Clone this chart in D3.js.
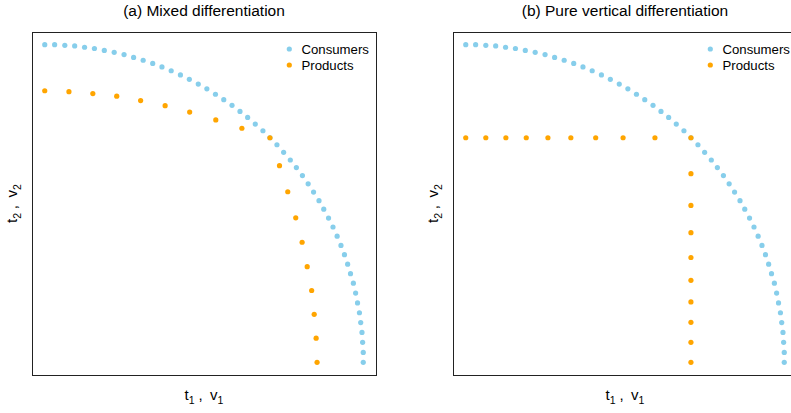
<!DOCTYPE html>
<html>
<head>
<meta charset="utf-8">
<script src="https://cdn.jsdelivr.net/npm/d3@7"></script>
<style>
  html, body { margin: 0; padding: 0; background: #fff; }
  svg { display: block; font-family: "Liberation Sans", Arial, sans-serif; }
</style>
</head>
<body>
<svg id="chart" width="791" height="413"></svg>
<script>
// ---- Data ----
const panelTitles = ["(a) Mixed differentiation", "(b) Pure vertical differentiation"];
const seriesNames = ["Consumers", "Products"];

const consumersX = [0.000, 0.031, 0.063, 0.094, 0.125, 0.156, 0.187, 0.218, 0.249, 0.279,
  0.309, 0.339, 0.368, 0.397, 0.426, 0.454, 0.482, 0.509, 0.536, 0.562,
  0.588, 0.613, 0.637, 0.661, 0.685, 0.707, 0.729, 0.750, 0.771, 0.790,
  0.809, 0.827, 0.844, 0.861, 0.876, 0.891, 0.905, 0.918, 0.930, 0.941,
  0.951, 0.960, 0.969, 0.976, 0.982, 0.988, 0.992, 0.996, 0.998, 1.000, 1.000];
const consumersY = [1.000, 1.000, 0.998, 0.996, 0.992, 0.988, 0.982, 0.976, 0.969, 0.960,
  0.951, 0.941, 0.930, 0.918, 0.905, 0.891, 0.876, 0.861, 0.844, 0.827,
  0.809, 0.790, 0.771, 0.750, 0.729, 0.707, 0.685, 0.661, 0.637, 0.613,
  0.588, 0.562, 0.536, 0.509, 0.482, 0.454, 0.426, 0.397, 0.368, 0.339,
  0.309, 0.279, 0.249, 0.218, 0.187, 0.156, 0.125, 0.094, 0.063, 0.031, 0.000];

const productsMixedX = [0.000, 0.076, 0.151, 0.226, 0.301, 0.378, 0.455, 0.537, 0.619, 0.707,
  0.737, 0.763, 0.788, 0.808, 0.824, 0.838, 0.846, 0.852, 0.855];
const productsMixedY = [0.855, 0.852, 0.846, 0.838, 0.824, 0.808, 0.788, 0.763, 0.737, 0.707,
  0.619, 0.537, 0.455, 0.378, 0.301, 0.226, 0.151, 0.076, 0.000];

const productsVertX = [0.000, 0.063, 0.126, 0.190, 0.258, 0.330, 0.408, 0.494, 0.594, 0.707,
  0.707, 0.707, 0.707, 0.707, 0.707, 0.707, 0.707, 0.707, 0.707];
const productsVertY = [0.707, 0.707, 0.707, 0.707, 0.707, 0.707, 0.707, 0.707, 0.707, 0.707,
  0.594, 0.494, 0.408, 0.330, 0.258, 0.190, 0.126, 0.063, 0.000];

const colors = { Consumers: "#87CEEB", Products: "#FFA500" };

// ---- Layout ----
const svg = d3.select("#chart");
const panels = [
  { left: 32, title: panelTitles[0], px: productsMixedX, py: productsMixedY },
  { left: 453, title: panelTitles[1], px: productsVertX, py: productsVertY }
];
const plotTop = 32, plotBottom = 375, pw = 344;
const domain = [-0.04, 1.04];

panels.forEach(p => {
  const x = d3.scaleLinear().domain(domain).range([p.left, p.left + pw]);
  const y = d3.scaleLinear().domain(domain).range([plotBottom, plotTop]);
  const g = svg.append("g");

  const cons = consumersX.map((v, i) => ({ x: v, y: consumersY[i] }));
  const prods = p.px.map((v, i) => ({ x: v, y: p.py[i] }));

  g.selectAll("circle.cons").data(cons).join("circle")
    .attr("class", "cons")
    .attr("cx", d => x(d.x)).attr("cy", d => y(d.y)).attr("r", 2.6)
    .attr("fill", colors.Consumers);
  g.selectAll("circle.prod").data(prods).join("circle")
    .attr("class", "prod")
    .attr("cx", d => x(d.x)).attr("cy", d => y(d.y)).attr("r", 2.6)
    .attr("fill", colors.Products);

  // box
  g.append("rect")
    .attr("x", p.left + 0.5).attr("y", plotTop + 0.5)
    .attr("width", pw).attr("height", plotBottom - plotTop)
    .attr("fill", "none").attr("stroke", "#222").attr("stroke-width", 1);

  // title
  g.append("text")
    .attr("x", p.left + pw / 2).attr("y", 16)
    .attr("text-anchor", "middle").attr("font-size", 15.5).attr("fill", "#000")
    .text(p.title);

  // x label: t1 , v1
  const xl = g.append("text")
    .attr("x", p.left + pw / 2).attr("y", 400)
    .attr("text-anchor", "middle").attr("font-size", 15).attr("fill", "#000");
  xl.append("tspan").text("t");
  xl.append("tspan").attr("font-size", 10.5).attr("dy", 4).text("1");
  xl.append("tspan").attr("dy", -4).text("\u2005,\u2002v");
  xl.append("tspan").attr("font-size", 10.5).attr("dy", 4).text("1");

  // y label: t2 , v2
  const cy = (plotTop + plotBottom) / 2;
  const yl = g.append("text")
    .attr("transform", `translate(${p.left - 15},${cy}) rotate(-90)`)
    .attr("text-anchor", "middle").attr("font-size", 15).attr("fill", "#000");
  yl.append("tspan").text("t");
  yl.append("tspan").attr("font-size", 10.5).attr("dy", 4).text("2");
  yl.append("tspan").attr("dy", -4).text("\u2005,\u2002v");
  yl.append("tspan").attr("font-size", 10.5).attr("dy", 4).text("2");

  // legend
  const lg = g.append("g");
  seriesNames.forEach((name, i) => {
    const ly = 49 + i * 16;
    lg.append("circle").attr("cx", p.left + 257.3).attr("cy", ly).attr("r", 2.6)
      .attr("fill", colors[name]);
    lg.append("text").attr("x", p.left + 269.5).attr("y", ly + 4.6)
      .attr("font-size", 13.2).attr("fill", "#000").text(name);
  });
});
</script>
</body>
</html>
